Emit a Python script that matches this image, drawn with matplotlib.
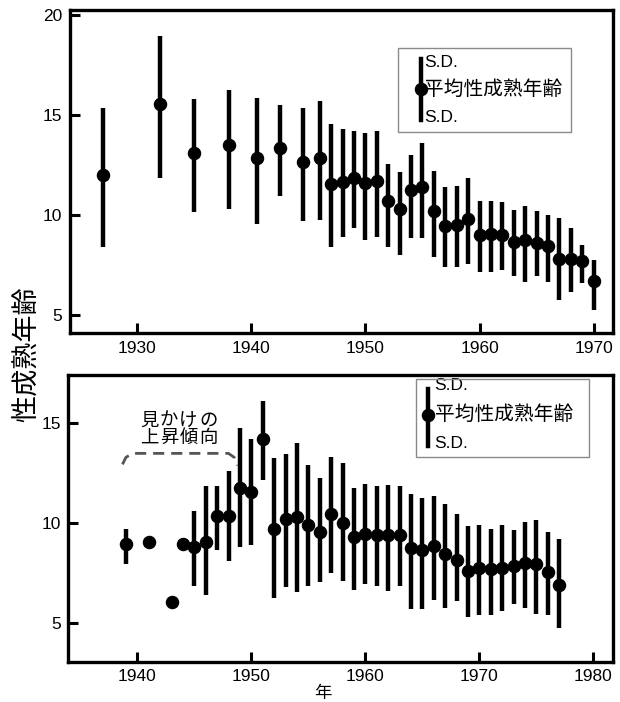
import matplotlib
matplotlib.use('Agg')
import matplotlib.pyplot as plt
import matplotlib.patches as mpatches
import numpy as np

plt.rcParams['font.family'] = ['Liberation Sans', 'Noto Sans CJK JP']

# upper panel: mean age at maturity with +/- S.D. ends
years_top = [1927, 1932, 1935, 1938, 1940.5, 1942.5, 1944.5, 1946] + list(range(1947, 1971))
mean_top = [12.0, 15.55, 13.1, 13.5, 12.85, 13.35, 12.65, 12.85,
            11.55, 11.65, 11.85, 11.6, 11.7, 10.7, 10.3, 11.25, 11.4, 10.2,
            9.45, 9.5, 9.8, 9.0, 9.05, 9.0, 8.65, 8.75, 8.6, 8.45,
            7.8, 7.8, 7.7, 6.7]
hi_top = [15.35, 18.95, 15.8, 16.25, 15.85, 15.5, 15.35, 15.7,
          14.55, 14.3, 14.2, 14.1, 14.2, 12.55, 12.15, 13.0, 13.6, 12.2,
          11.4, 11.45, 11.85, 10.7, 10.7, 10.65, 10.25, 10.45, 10.2, 10.0,
          9.85, 9.35, 8.5, 7.75]
lo_top = [8.4, 11.85, 10.15, 10.3, 9.55, 10.95, 9.7, 9.75,
          8.4, 8.9, 9.35, 8.75, 8.9, 8.4, 8.0, 8.85, 8.85, 7.9,
          7.4, 7.4, 7.55, 7.15, 7.15, 7.25, 6.95, 6.65, 6.95, 6.65,
          5.75, 6.15, 6.6, 5.25]

# lower panel
nan = np.nan
years_bot = [1939, 1941, 1943, 1944] + list(range(1945, 1978))
mean_bot = [8.95, 9.05, 6.05, 8.95,
            8.8, 9.05, 10.35, 10.35, 11.75, 11.55, 14.2, 9.7, 10.2, 10.3,
            9.9, 9.55, 10.45, 10.0, 9.3, 9.45, 9.4, 9.4, 9.4, 8.75,
            8.65, 8.85, 8.45, 8.15, 7.6, 7.75, 7.7, 7.75, 7.85, 8.0,
            7.95, 7.55, 6.9]
hi_bot = [9.7, nan, nan, nan,
          10.6, 11.85, 11.85, 12.6, 14.75, 14.2, 16.1, 13.25, 13.45, 14.0,
          12.9, 12.25, 13.3, 13.0, 11.75, 11.95, 11.85, 11.9, 11.85, 11.45,
          11.25, 11.35, 10.95, 10.45, 9.85, 9.9, 9.7, 9.9, 9.65, 10.05,
          10.15, 9.55, 9.2]
lo_bot = [7.95, nan, nan, nan,
          6.85, 6.4, 8.65, 8.1, 8.8, 8.9, 12.15, 6.25, 6.8, 6.55,
          6.85, 7.05, 7.5, 7.1, 6.65, 6.95, 6.85, 6.6, 6.85, 5.7,
          5.7, 6.15, 5.75, 6.1, 5.3, 5.4, 5.4, 5.6, 5.95, 5.75,
          5.45, 5.4, 4.75]

ticks_top_x = [1930, 1940, 1950, 1960, 1970]
ticks_top_y = [5, 10, 15, 20]
ticks_bot_x = [1940, 1950, 1960, 1970, 1980]
ticks_bot_y = [5, 10, 15]

legend_main = '平均性成熟年齢'
legend_sd = 'S.D.'
ylabel = '性成熟年齢'
xlabel = '年'
note_lines = ['見かけの', '上昇傾向']
# hand-drawn bracket over the early years (data coords)
bracket_x = [1938.7, 1939.0, 1939.6, 1948.0, 1948.5, 1948.8]
bracket_y = [12.95, 13.3, 13.5, 13.5, 13.3, 12.9]

fig = plt.figure(figsize=(6.2, 7.02), dpi=100)
ax1 = fig.add_axes([0.1129, 0.5256, 0.8758, 0.4601])
ax2 = fig.add_axes([0.1102, 0.0574, 0.8790, 0.4084])


def draw_panel(ax, x, m, lo, hi):
    ax.vlines(x, lo, hi, colors='black', linewidth=3.2, zorder=2)
    ax.plot(x, m, 'o', color='black', markersize=8.7, zorder=3)
    for s in ax.spines.values():
        s.set_linewidth(2.4)
    ax.tick_params(direction='in', length=7.5, width=2.2, labelsize=12.5,
                   top=False, right=False, pad=5.5)


def draw_legend(ax, box, bar_x, bar_y0, bar_y1, dot_y, tx, ty):
    ax.add_patch(mpatches.Rectangle((box[0], box[1]), box[2], box[3],
                                    transform=ax.transAxes, fill=False,
                                    edgecolor='#8a8a8a', linewidth=1.0, zorder=4))
    ax.plot([bar_x, bar_x], [bar_y0, bar_y1], color='black', linewidth=3.2,
            transform=ax.transAxes, zorder=5)
    ax.plot([bar_x], [dot_y], 'o', color='black', markersize=8.7,
            transform=ax.transAxes, zorder=5)
    ax.text(tx, ty[0], legend_sd, transform=ax.transAxes, fontsize=12.5,
            ha='left', va='center')
    ax.text(tx, ty[1], legend_main, transform=ax.transAxes, fontsize=14.2,
            ha='left', va='center')
    ax.text(tx, ty[2], legend_sd, transform=ax.transAxes, fontsize=12.5,
            ha='left', va='center')


draw_panel(ax1, years_top, mean_top, lo_top, hi_top)
ax1.set_xlim(1924.1, 1971.7)
ax1.set_ylim(4.1, 20.25)
ax1.set_xticks(ticks_top_x)
ax1.set_yticks(ticks_top_y)
draw_legend(ax1, (0.604, 0.622, 0.319, 0.26), 0.646, 0.659, 0.848, 0.755,
            0.652, (0.838, 0.755, 0.668))

draw_panel(ax2, years_bot, mean_bot, lo_bot, hi_bot)
ax2.set_xlim(1933.95, 1981.75)
ax2.set_ylim(3.08, 17.42)
ax2.set_xticks(ticks_bot_x)
ax2.set_yticks(ticks_bot_y)
draw_legend(ax2, (0.638, 0.714, 0.317, 0.272), 0.660, 0.752, 0.951, 0.861,
            0.672, (0.962, 0.861, 0.760))

ax2.plot(bracket_x, bracket_y, color='#555555', linewidth=2, linestyle=(0, (4, 2.5)),
         solid_capstyle='round', zorder=1)
# the note is letter-spaced in the original, so place each glyph on its own
for row, line in enumerate(note_lines):
    for k, ch in enumerate(line):
        ax2.text(1941.05 + k * 1.72, 15.1 - row * 0.86, ch, fontsize=13.2,
                 ha='center', va='center')

fig.text(0.045, 0.495, ylabel, rotation=90, fontsize=19.5, ha='center', va='center')
fig.text(0.52, 0.013, xlabel, fontsize=12.5, ha='center', va='center')

fig.savefig('out.png', dpi=100, facecolor='white')
